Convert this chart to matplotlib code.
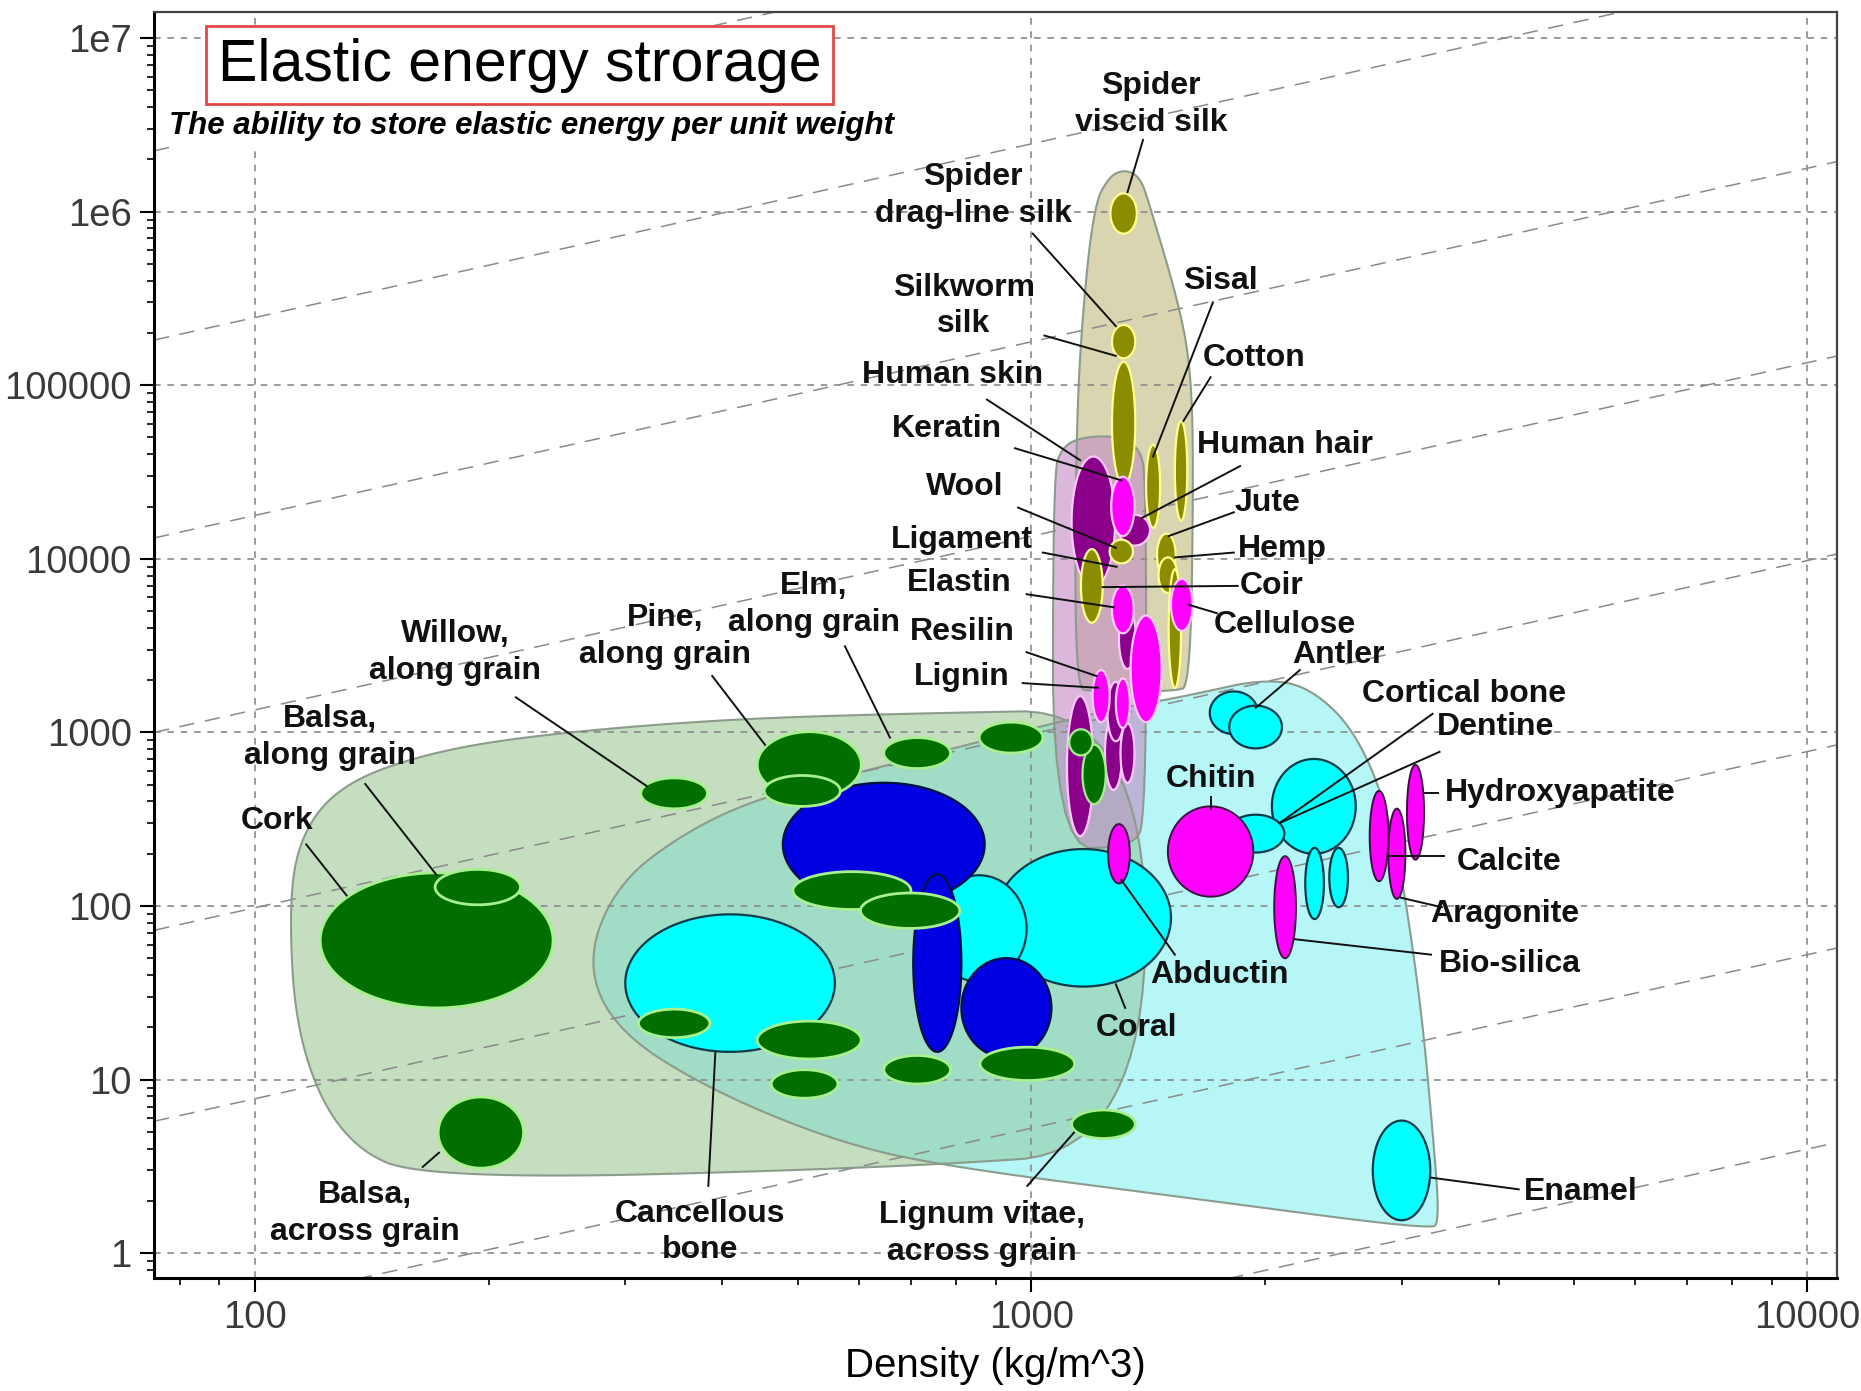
import numpy as np
import matplotlib.pyplot as plt

# all positions are log10(density), log10(energy); sizes are half-widths in decades
# ---------------- envelopes ----------------
env_wood = [(2.043, 2.027), (2.061, 2.437), (2.115, 2.710), (2.222, 2.881), (2.359, 2.984),
            (2.589, 3.072), (2.818, 3.107), (3.147, 3.134), (3.147, 0.593), (2.818, 0.490),
            (2.222, 0.422), (2.115, 0.627), (2.054, 1.208)]
env_bone = [(2.426, 1.672), (2.466, 2.130), (2.558, 2.437), (2.653, 2.628), (2.780, 2.772),
            (3.080, 3.113), (3.200, 3.209), (3.300, 3.311), (3.361, 3.257), (3.422, 2.984),
            (3.468, 2.437), (3.501, 1.480), (3.518, 0.661), (3.526, 0.183), (3.514, 0.135),
            (3.200, 0.320), (2.894, 0.497), (2.754, 0.634), (2.589, 0.934), (2.466, 1.276)]
env_fibre = [(3.057, 3.257), (3.057, 4.493), (3.063, 5.258), (3.080, 6.030), (3.101, 6.208),
             (3.122, 6.242), (3.141, 6.194), (3.153, 6.030), (3.191, 5.456), (3.206, 5.074),
             (3.209, 4.493), (3.205, 3.270), (3.185, 3.236), (3.078, 3.236)]
env_protein = [(3.028, 2.335), (3.028, 4.480), (3.040, 4.651), (3.070, 4.705), (3.116, 4.705),
               (3.139, 4.637), (3.148, 4.480), (3.148, 2.506), (3.131, 2.335)]

# ---------------- materials (lx, ly, dlx, dly) ----------------
cyan_lo = [(2.612, 1.556, 0.135, 0.396),   # cancellous bone
           (3.067, 1.932, 0.113, 0.396),   # coral
           (2.933, 1.870, 0.061, 0.307)]
blue = [(2.810, 2.355, 0.130, 0.355), (2.879, 1.672, 0.031, 0.512), (2.968, 1.413, 0.058, 0.287)]
wood = [(2.234, 1.802, 0.150, 0.389),  # cork
        (2.287, 2.109, 0.055, 0.102),  # balsa along
        (2.291, 0.695, 0.055, 0.205),  # balsa across
        (2.540, 2.649, 0.043, 0.089),  # willow
        (2.714, 2.813, 0.067, 0.191),  # pine
        (2.705, 2.663, 0.049, 0.089),
        (2.853, 2.881, 0.043, 0.089),  # elm
        (2.974, 2.970, 0.041, 0.089),
        (2.769, 2.089, 0.076, 0.109), (2.844, 1.973, 0.064, 0.102),
        (2.540, 1.324, 0.046, 0.082), (2.714, 1.228, 0.067, 0.109),
        (2.708, 0.975, 0.043, 0.082), (2.853, 1.057, 0.043, 0.082),
        (2.995, 1.091, 0.061, 0.096),
        (3.093, 0.743, 0.041, 0.082)]  # lignum vitae
cyan_hi = [(3.261, 3.113, 0.031, 0.123), (3.289, 3.031, 0.034, 0.123),  # antler
           (3.364, 2.574, 0.054, 0.273),  # cortical bone
           (3.289, 2.417, 0.037, 0.109),  # dentine
           (3.365, 2.130, 0.012, 0.205), (3.396, 2.164, 0.012, 0.171),
           (3.477, 0.477, 0.037, 0.287)]  # enamel
mineral = [(3.231, 2.314, 0.055, 0.260),  # chitin
           (3.327, 1.993, 0.014, 0.294),  # bio-silica
           (3.448, 2.403, 0.012, 0.260), (3.471, 2.301, 0.011, 0.260), (3.495, 2.540, 0.011, 0.273),
           (3.113, 2.301, 0.014, 0.171)]  # abductin
fibre = [(3.119, 5.989, 0.017, 0.116), (3.119, 5.251, 0.015, 0.096), (3.119, 4.780, 0.015, 0.355),
         (3.157, 4.418, 0.009, 0.239), (3.193, 4.507, 0.008, 0.287), (3.174, 4.022, 0.012, 0.123),
         (3.176, 3.906, 0.012, 0.102), (3.185, 3.598, 0.008, 0.342)]
protein_dark = [(3.080, 4.213, 0.028, 0.376), (3.133, 4.165, 0.020, 0.089), (3.124, 3.537, 0.011, 0.171),
                (3.063, 2.806, 0.017, 0.403), (3.106, 2.881, 0.011, 0.212), (3.124, 2.881, 0.009, 0.171),
                (3.109, 3.120, 0.011, 0.171)]
protein_pink = [(3.118, 4.302, 0.015, 0.171), (3.118, 3.708, 0.014, 0.137), (3.148, 3.366, 0.020, 0.307),
                (3.090, 3.209, 0.011, 0.150), (3.118, 3.168, 0.009, 0.143), (3.194, 3.735, 0.014, 0.150)]
fibre_top = [(3.116, 4.042, 0.015, 0.068), (3.078, 3.844, 0.014, 0.212)]  # wool, ligament
wood_top = [(3.081, 2.758, 0.015, 0.171), (3.064, 2.943, 0.015, 0.075)]

# ---------------- labels: text, text pos, leader line ----------------
labels = ['Spider\nviscid silk', 'Spider\ndrag-line silk', 'Silkworm\nsilk', 'Human skin', 'Keratin',
          'Wool', 'Ligament', 'Elastin', 'Resilin', 'Lignin', 'Sisal', 'Cotton', 'Human hair', 'Jute',
          'Hemp', 'Coir', 'Cellulose', 'Antler', 'Cortical bone', 'Dentine', 'Hydroxyapatite',
          'Calcite', 'Aragonite', 'Bio-silica', 'Chitin', 'Abductin', 'Coral', 'Enamel',
          'Lignum vitae,\nacross grain', 'Cancellous\nbone', 'Balsa,\nacross grain', 'Cork',
          'Balsa,\nalong grain', 'Willow,\nalong grain', 'Pine,\nalong grain', 'Elm,\nalong grain']
label_pos = [(3.154, 6.617), (2.925, 6.092), (2.913, 5.456), (2.898, 5.060), (2.891, 4.746),
             (2.914, 4.411), (2.910, 4.111), (2.907, 3.858), (2.911, 3.578), (2.911, 3.318),
             (3.243, 5.600), (3.287, 5.156), (3.327, 4.657), (3.304, 4.322), (3.323, 4.056),
             (3.310, 3.844), (3.327, 3.619), (3.396, 3.448), (3.557, 3.223), (3.598, 3.031),
             (3.682, 2.649), (3.616, 2.253), (3.610, 1.952), (3.616, 1.665), (3.231, 2.731),
             (3.242, 1.604), (3.135, 1.296), (3.708, 0.354), (2.937, 0.115), (2.573, 0.122),
             (2.141, 0.231), (2.028, 2.492), (2.096, 2.970), (2.258, 3.462), (2.528, 3.551),
             (2.720, 3.735)]
leaders = [((3.144, 6.413), (3.124, 6.112)), ((3.002, 5.873), (3.109, 5.340)),
           ((3.017, 5.286), (3.109, 5.169)), ((2.943, 4.917), (3.063, 4.568)),
           ((2.979, 4.637), (3.116, 4.452)), ((2.983, 4.295), (3.109, 4.063)),
           ((3.015, 4.036), (3.110, 3.954)), ((2.994, 3.796), (3.106, 3.721)),
           ((2.994, 3.462), (3.084, 3.325)), ((2.989, 3.284), (3.086, 3.257)),
           ((3.234, 5.477), (3.157, 4.589)), ((3.231, 5.046), (3.196, 4.794)),
           ((3.269, 4.534), (3.142, 4.234)), ((3.261, 4.268), (3.177, 4.131)),
           ((3.261, 4.036), (3.185, 4.008)), ((3.266, 3.844), (3.092, 3.837)),
           ((3.239, 3.687), (3.203, 3.735)), ((3.346, 3.359), (3.289, 3.141)),
           ((3.526, 2.888), (3.320, 2.478)), ((3.517, 3.107), (3.320, 2.478)),
           ((3.524, 2.649), (3.506, 2.649)), ((3.532, 2.287), (3.462, 2.287)),
           ((3.529, 1.993), (3.476, 2.048)), ((3.515, 1.720), (3.339, 1.809)),
           ((3.231, 2.628), (3.231, 2.560)), ((3.185, 1.720), (3.116, 2.150)),
           ((3.121, 1.413), (3.109, 1.549)), ((3.628, 0.368), (3.514, 0.436)),
           ((2.995, 0.388), (3.055, 0.695)), ((2.584, 0.388), (2.593, 1.153)),
           ((2.216, 0.497), (2.237, 0.579)), ((2.066, 2.355), (2.118, 2.061)),
           ((2.142, 2.703), (2.234, 2.178)), ((2.336, 3.202), (2.505, 2.690)),
           ((2.589, 3.325), (2.657, 2.929)), ((2.760, 3.496), (2.818, 2.970))]

# guide lines of slope 1: log10(energy) at the left edge
guide_left = [6.35, 5.26, 4.12, 3.00, 1.86, 0.76, -0.41, -1.53]

yticks = [1, 10, 100, 1000, 10000, 100000, 1e6, 1e7]
ytick_labels = ['1', '10', '100', '1000', '10000', '100000', '1e6', '1e7']
xticks = [100, 1000, 10000]
xtick_labels = ['100', '1000', '10000']

LX = (1.87, 4.038)
LY = (-0.143, 7.15)


def chaikin(pts, n=4):
    pts = np.asarray(pts, float)
    for _ in range(n):
        nxt = np.roll(pts, -1, axis=0)
        new = np.empty((2 * len(pts), 2))
        new[0::2] = 0.75 * pts + 0.25 * nxt
        new[1::2] = 0.25 * pts + 0.75 * nxt
        pts = new
    return 10 ** pts[:, 0], 10 ** pts[:, 1]


def ell(e, n=160):
    lx, ly, dx, dy = e
    t = np.linspace(0, 2 * np.pi, n)
    return 10 ** (lx + dx * np.cos(t)), 10 ** (ly + dy * np.sin(t))


def draw_group(ax, group, fc, ec, lw, z):
    for e in group:
        x, y = ell(e)
        ax.fill(x, y, facecolor=fc, edgecolor=ec, lw=lw, zorder=z)


fig = plt.figure(figsize=(18.61, 13.91), dpi=100)
ax = fig.add_axes([0.0828, 0.0812, 0.9043, 0.9102])
ax.set_xscale('log')
ax.set_yscale('log')
ax.set_xlim(10 ** LX[0], 10 ** LX[1])
ax.set_ylim(10 ** LY[0], 10 ** LY[1])

# envelopes
wx, wy = chaikin(env_wood)
wood_patch = ax.fill(wx, wy, facecolor='#c6dec0', edgecolor='none', zorder=1)[0]
bx, by = chaikin(env_bone)
ax.fill(bx, by, facecolor='#b6f6f6', edgecolor='none', zorder=1.05)
teal = ax.fill(bx, by, facecolor='#a0dcc6', edgecolor='none', zorder=1.1)[0]
teal.set_clip_path(wood_patch)
fx, fy = chaikin(env_fibre)
ax.fill(fx, fy, facecolor='#d8d5b0', edgecolor='none', zorder=1.2)
px, py = chaikin(env_protein, n=3)
ax.fill(px, py, facecolor='#c38ac3', alpha=0.6, edgecolor='none', zorder=1.3)
for xx, yy in [(wx, wy), (bx, by), (fx, fy), (px, py)]:
    ax.fill(xx, yy, facecolor='none', edgecolor='#8c9c8c', lw=1.5, zorder=1.35)

# guide lines
gx = np.array(LX)
for c in guide_left:
    ax.plot(10 ** gx, 10 ** (c + gx - LX[0]), color='#8a8a8a', lw=1.1,
            ls=(0, (10, 7)), zorder=1.6)

# materials
draw_group(ax, cyan_lo, '#00ffff', '#0b3b4b', 1.6, 3)
draw_group(ax, blue, '#0000e0', '#001040', 1.6, 3.1)
draw_group(ax, wood, '#006f00', '#a8f090', 2.0, 3.2)
draw_group(ax, cyan_hi, '#00ffff', '#0b3b4b', 1.6, 3.3)
draw_group(ax, mineral, '#ff00ff', '#3a1040', 1.4, 3.4)
draw_group(ax, fibre, '#8c8c00', '#ffff90', 1.6, 3.5)
draw_group(ax, protein_dark, '#8a008a', '#ffc8ff', 1.6, 3.6)
draw_group(ax, protein_pink, '#ff00ff', '#ffc8ff', 1.6, 3.7)
draw_group(ax, fibre_top, '#8c8c00', '#ffff90', 1.6, 3.8)
draw_group(ax, wood_top, '#006f00', '#a8f090', 1.6, 3.9)

# labels
lab_font = ['Liberation Sans', 'DejaVu Sans']
for (a, b) in leaders:
    ax.plot([10 ** a[0], 10 ** b[0]], [10 ** a[1], 10 ** b[1]], color='#111111', lw=1.4, zorder=8)
for t, (lx, ly) in zip(labels, label_pos):
    ax.text(10 ** lx, 10 ** ly, t, ha='center', va='center', fontsize=23, fontweight='bold',
            family=lab_font, linespacing=1.3, color='#111111', zorder=9)

ax.text(0.038, 0.958, 'Elastic energy strorage', transform=ax.transAxes, fontsize=42.5,
        family='Liberation Sans', ha='left', va='center', zorder=12,
        bbox=dict(boxstyle='square,pad=0.2', fc='white', ec='#e04848', lw=2))
ax.text(0.009, 0.910, 'The ability to store elastic energy per unit weight', transform=ax.transAxes,
        fontsize=22.5, family=lab_font, fontweight='bold', style='italic', ha='left', va='center',
        zorder=12, bbox=dict(boxstyle='square,pad=0.15', fc='white', ec='none'))

# axes
ax.set_axisbelow('line')
ax.grid(True, which='major', color='#8a8a8a', ls=(0, (4, 4)), lw=1.2)
ax.set_yticks(yticks)
ax.set_yticklabels(ytick_labels)
ax.set_xticks(xticks)
ax.set_xticklabels(xtick_labels)
ax.tick_params(which='major', length=10, width=1.5, labelsize=27.5, labelcolor='#3a3a3a', pad=6)
ax.tick_params(which='minor', length=5, width=1.2)
for lab in ax.get_xticklabels() + ax.get_yticklabels():
    lab.set_family('Liberation Sans')
for s in ['left', 'bottom']:
    ax.spines[s].set_linewidth(2.2)
for s in ['top', 'right']:
    ax.spines[s].set_linewidth(1.6)
    ax.spines[s].set_color('#444444')
ax.set_xlabel('Density (kg/m^3)', fontsize=29, family='Liberation Sans', labelpad=8)

fig.savefig('out.png', dpi=100)
